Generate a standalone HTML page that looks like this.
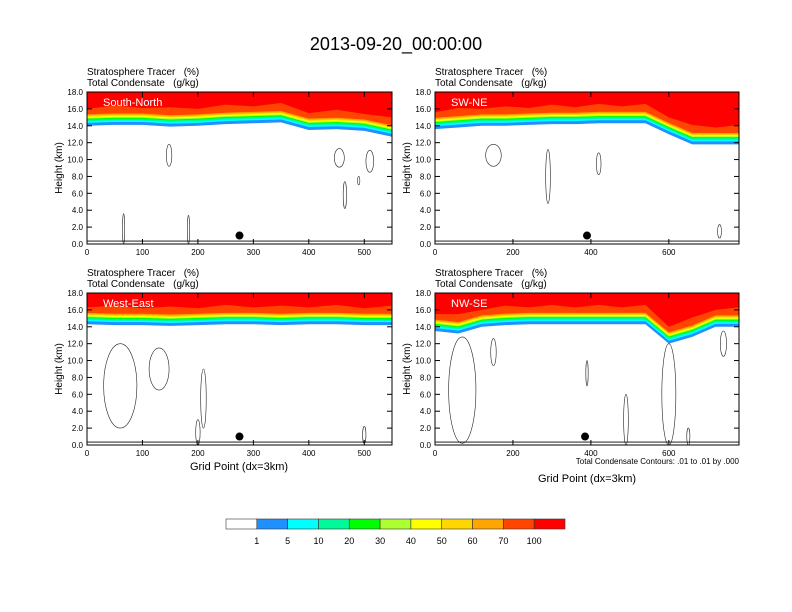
<!DOCTYPE html>
<html><head><meta charset="utf-8"><style>
body{margin:0;background:#fff;}
svg{display:block;font-family:"Liberation Sans",sans-serif;}
text{white-space:pre;}
</style></head><body>
<svg id="c" width="792" height="612" viewBox="0 0 792 612">
<text x="396" y="50" text-anchor="middle" font-size="18">2013-09-20_00:00:00</text>
</svg>
<script>
// ---- data ----
const panelNames = ["South-North","SW-NE","West-East","NW-SE"];
const panelXmax = [550, 780, 550, 780];
const panelXticks = [[0,100,200,300,400,500],[0,200,400,600],[0,100,200,300,400,500],[0,200,400,600]];
const yTicks = [0,2,4,6,8,10,12,14,16,18];
const tropSN = [14.0,14.1,14.1,13.9,14.0,14.2,14.3,14.4,13.5,13.6,13.4,12.7];
const tropSWNE = [13.6,13.8,14.0,14.0,14.1,14.2,14.2,14.3,14.3,14.3,13.0,11.8,11.8,11.8];
const tropWE = [14.3,14.2,14.2,14.1,14.2,14.3,14.3,14.2,14.3,14.3,14.2,14.2];
const tropNWSE = [13.5,13.2,14.0,14.2,14.3,14.3,14.3,14.3,14.3,14.3,12.0,12.8,14.0,14.0];
// contour ellipses: [gridX, heightKm, rxGrid, ryKm]
const contSN = [[148,10.5,5,1.3],[66,1.8,2,1.8],[183,1.7,2,1.7],[455,10.2,9,1.1],[465,5.8,3,1.6],[510,9.8,7,1.3],[490,7.5,2,0.5]];
const contSWNE = [[290,8,6,3.2],[150,10.5,20,1.3],[420,9.5,6,1.3],[730,1.5,5,0.8]];
const contWE = [[60,7,30,5],[130,9,18,2.5],[210,5.5,5,3.5],[200,1.5,4,1.5],[500,1.2,3,1]];
const contNWSE = [[70,6.5,35,6.3],[150,11,7,1.6],[390,8.5,3,1.5],[490,3,6,3],[600,6,18,6],[650,1,4,1],[740,12,8,1.5]];
const dotX = [275,390,275,385];
const cbLabels = ["1","5","10","20","30","40","50","60","70","100"];
const cbColors = ["#ffffff","#1e90ff","#00ffff","#00fa9a","#00ff00","#adff2f","#ffff00","#ffd700","#ffa500","#ff4500","#ff0000"];
// ---- layout ----
const NS="http://www.w3.org/2000/svg";
const svg=document.getElementById('c');
function el(t,a,p){const e=document.createElementNS(NS,t);for(const k in a)e.setAttribute(k,a[k]);(p||svg).appendChild(e);return e;}
const boxes=[[87,92,305,152],[435,92,304,152],[87,293,305,152],[435,293,304,152]];
const tropAll=[tropSN,tropSWNE,tropWE,tropNWSE];
const contAll=[contSN,contSWNE,contWE,contNWSE];
const bandOff=[0,0.35,0.55,0.72,0.85,0.97,1.08,1.2,1.35];
const bandCol=["#1e90ff","#00ffff","#00fa9a","#00ff00","#adff2f","#ffff00","#ffd700","#ffa500","#ff4500"];
boxes.forEach((b,i)=>{
  const [X,Y,W,H]=b, xmax=panelXmax[i];
  const g=el('g',{});
  
  
  const sx=v=>X+v/xmax*W, sy=v=>Y+H-v/18*H;
  const t1=el('text',{x:X,y:Y-17,'font-size':10},g);t1.textContent="Stratosphere Tracer   (%)";
  
  const t2=el('text',{x:X,y:Y-6,'font-size':10},g);t2.textContent="Total Condensate   (g/kg)";
  
  const clip=el('clipPath',{id:'cl'+i},g);el('rect',{x:X,y:Y,width:W,height:H},clip);
  const pg=el('g',{'clip-path':'url(#cl'+i+')'},g);
  const tr=tropAll[i], n=tr.length, step=xmax/(n-1);
  bandCol.forEach((c,k)=>{
    let d='M'+sx(0)+','+sy(18);
    tr.forEach((h,j)=>{d+=' L'+sx(j*step)+','+sy(Math.min(18,h+bandOff[k]));});
    d+=' L'+sx(xmax)+','+sy(18)+'Z';
    const p=el('path',{d:d,fill:c},pg);
    
  });
  let d='M'+sx(0)+','+sy(18);
  tr.forEach((h,j)=>{d+=' L'+sx(j*step)+','+sy(Math.min(18,h+2.0+(j%2)*0.3));});
  d+=' L'+sx(xmax)+','+sy(18)+'Z';
  const rp=el('path',{d:d,fill:'#ff0000'},pg);
  
  contAll[i].forEach(c=>{
    const e=el('ellipse',{cx:sx(c[0]),cy:sy(c[1]),rx:c[2]/xmax*W,ry:c[3]/18*H,fill:'none',stroke:'#222','stroke-width':0.6},pg);
    
  });
  el('line',{x1:X,x2:X+W,y1:sy(0.35),y2:sy(0.35),stroke:'#000','stroke-width':0.8},pg);
  const dot=el('circle',{cx:sx(dotX[i]),cy:sy(1),r:4,fill:'#000'},g);
  
  const nm=el('text',{x:X+16,y:Y+14,'font-size':11,fill:'#fff'},g);nm.textContent=panelNames[i];
  
  const fr=el('rect',{x:X,y:Y,width:W,height:H,fill:'none',stroke:'#000','stroke-width':1},g);
  
  yTicks.forEach(v=>{
    el('line',{x1:X,x2:X+5,y1:sy(v),y2:sy(v),stroke:'#000'},g);
    el('line',{x1:X+W,x2:X+W-5,y1:sy(v),y2:sy(v),stroke:'#000'},g);
    const t=el('text',{x:X-4,y:sy(v)+3,'font-size':8,'text-anchor':'end'},g);t.textContent=v.toFixed(1);
    
  });
  panelXticks[i].forEach(v=>{
    el('line',{x1:sx(v),x2:sx(v),y1:Y+H,y2:Y+H-5,stroke:'#000'},g);
    el('line',{x1:sx(v),x2:sx(v),y1:Y,y2:Y+5,stroke:'#000'},g);
    const t=el('text',{x:sx(v),y:Y+H+11,'font-size':8,'text-anchor':'middle'},g);t.textContent=v;
    
  });
  const yl=el('text',{x:0,y:0,'font-size':10,'text-anchor':'middle',transform:'translate('+(X-25)+','+(Y+H/2)+') rotate(-90)'},g);
  yl.textContent="Height (km)";
});
const xl1=el('text',{x:239,y:470,'font-size':11,'text-anchor':'middle'});xl1.textContent="Grid Point (dx=3km)";

const xl2=el('text',{x:587,y:482,'font-size':11,'text-anchor':'middle'});xl2.textContent="Grid Point (dx=3km)";

const cn=el('text',{x:739,y:464,'font-size':8,'text-anchor':'end'});cn.textContent="Total Condensate Contours: .01 to .01 by .000";

const cbX=226, cbW=339, cbY=519, cbH=10, bw=cbW/cbColors.length;
cbColors.forEach((c,k)=>{
  const r=el('rect',{x:cbX+k*bw,y:cbY,width:bw,height:cbH,fill:c,stroke:'#333','stroke-width':0.6});
  
});
cbLabels.forEach((l,k)=>{
  const t=el('text',{x:cbX+(k+1)*bw,y:cbY+25,'font-size':9,'text-anchor':'middle'});t.textContent=l;
  
});
</script>
</body></html>
